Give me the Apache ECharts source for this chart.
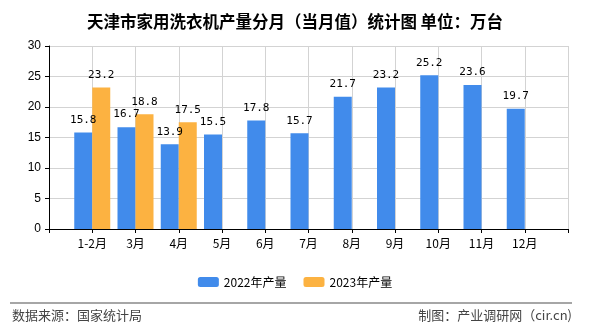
<!DOCTYPE html>
<html><head><meta charset="utf-8">
<script src="https://cdn.jsdelivr.net/npm/echarts@6/dist/echarts.min.js"></script>
<style>html,body{margin:0;padding:0;background:#fff}#c{width:590px;height:330px}</style>
</head><body><div id="c"></div>
<script>
var categories = ["", "1-2月", "3月", "4月", "5月", "6月", "7月", "8月", "9月", "10月", "11月", "12月", ""];
var values2022 = ["-", 15.8, 16.7, 13.9, 15.5, 17.8, 15.7, 21.7, 23.2, 25.2, 23.6, 19.7, "-"];
var values2023 = ["-", 23.2, 18.8, 17.5, "-", "-", "-", "-", "-", "-", "-", "-", "-"];
var seriesNames = ["2022年产量", "2023年产量"];
var yTicks = {min: 0, max: 30, interval: 5};

var chart = echarts.init(document.getElementById('c'));
var lbl = {show: true, position: 'top', distance: 7, color: '#000', fontFamily: 'DejaVu Sans Mono', fontSize: 11};
chart.setOption({
  animation: false,
  title: {text: '天津市家用洗衣机产量分月（当月值）统计图 单位：万台', left: 'center', top: 8,
    textStyle: {fontSize: 16.5, fontWeight: 'bold', color: '#000', fontFamily: 'Noto Sans CJK SC'}},
  grid: {left: 49, right: 22, top: 46, bottom: 101},
  legend: {top: 271, left: 'center', itemWidth: 21, itemHeight: 10, itemGap: 17,
    textStyle: {fontSize: 12, color: '#000', fontFamily: 'Noto Sans CJK SC'},
    data: seriesNames},
  xAxis: {type: 'category', data: categories, boundaryGap: false,
    axisLine: {lineStyle: {color: '#000'}},
    axisTick: {show: true, length: 4, lineStyle: {color: '#000'}},
    axisLabel: {color: '#000', fontSize: 12, margin: 8, fontFamily: 'Noto Sans CJK SC', interval: 0},
    splitLine: {show: true, lineStyle: {color: '#d3d3d3'}}},
  yAxis: {type: 'value', min: yTicks.min, max: yTicks.max, interval: yTicks.interval,
    axisLine: {show: true, lineStyle: {color: '#000'}},
    axisTick: {show: true, length: 4, lineStyle: {color: '#000'}},
    axisLabel: {color: '#000', fontSize: 12, margin: 8, fontFamily: 'Liberation Sans'},
    splitLine: {show: true, lineStyle: {color: '#d3d3d3'}}},
  series: [
    {name: seriesNames[0], type: 'bar', data: values2022, barWidth: 18, barGap: '0%',
      itemStyle: {color: '#418BEB'}, label: lbl},
    {name: seriesNames[1], type: 'bar', data: values2023, barWidth: 18, barGap: '0%',
      itemStyle: {color: '#FCB241'}, label: lbl}
  ],
  graphic: [
    {type: 'line', shape: {x1: 10, y1: 303, x2: 572, y2: 303}, style: {stroke: '#888', lineWidth: 1.5}},
    {type: 'text', left: 12, top: 309, style: {text: '数据来源：国家统计局', fontSize: 13, fill: '#444', fontFamily: 'Noto Sans CJK SC'}},
    {type: 'text', right: 18, top: 309, style: {text: '制图：产业调研网（cir.cn)', fontSize: 13, fill: '#444', fontFamily: 'Noto Sans CJK SC'}}
  ]
});
</script></body></html>
